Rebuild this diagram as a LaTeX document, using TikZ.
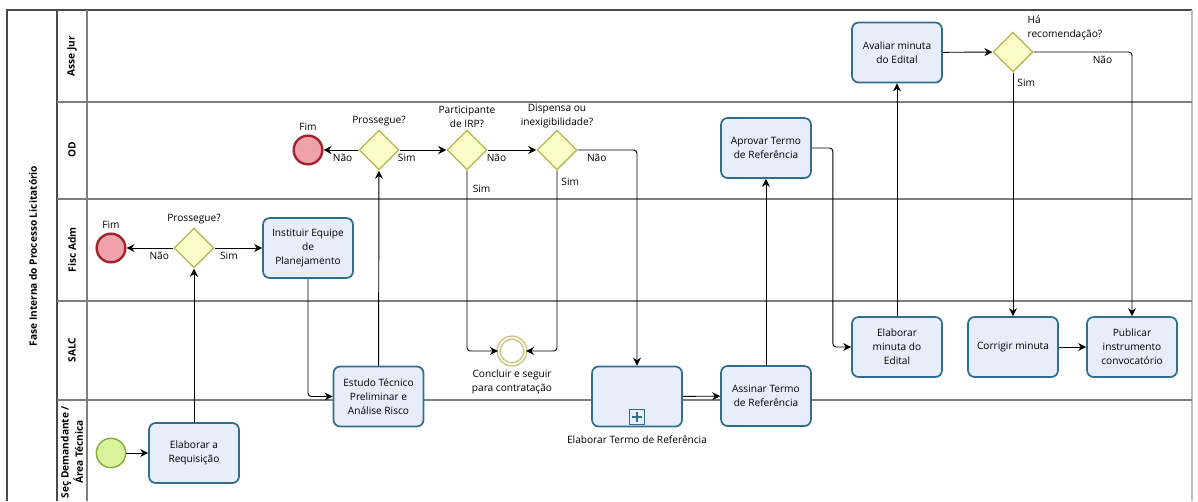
\documentclass[tikz,border=0pt]{standalone}
\usepackage{fontspec}
\setmainfont{Open Sans}
\usepackage{xcolor}
\usetikzlibrary{arrows.meta,positioning,shapes.geometric,calc}
\definecolor{taskbd}{HTML}{2F6F8C}
\definecolor{taskbg}{HTML}{E7EDFA}
\definecolor{gatebd}{HTML}{BDBA5C}
\definecolor{gatebg}{HTML}{FCFCC8}
\definecolor{endbd}{HTML}{A3222B}
\definecolor{endbg}{HTML}{EFA2A9}
\definecolor{startbd}{HTML}{86AE3E}
\definecolor{startbg}{HTML}{D9F39A}
\definecolor{midbd}{HTML}{C9C27C}
\definecolor{lanec}{HTML}{7E7E7E}
\definecolor{framec}{HTML}{4A4A4A}
\newcommand{\lblfont}{\fontsize{7.6}{10.6}\selectfont}
\tikzset{
  task/.style={rectangle, rounded corners=5pt, draw=taskbd, fill=taskbg, line width=1.3pt,
               minimum width=67.5pt, minimum height=45pt, align=center, inner sep=2pt, font=\lblfont},
  gate/.style={diamond, draw=gatebd, fill=gatebg, line width=1.1pt,
               minimum width=30pt, minimum height=30pt, inner sep=0pt},
  endev/.style={circle, draw=endbd, fill=endbg, line width=1.8pt, minimum size=21.5pt, inner sep=0pt},
  startev/.style={circle, draw=startbd, fill=startbg, line width=1.1pt, minimum size=22pt, inner sep=0pt},
  midev/.style={circle, draw=midbd, fill=white, line width=1.1pt, minimum size=20pt, inner sep=0pt,
                double=white, double distance=1.2pt},
  flow/.style={-{Stealth[length=6pt,width=6pt]}, line width=0.7pt, draw=black, rounded corners=2.5pt},
  lbl/.style={font=\lblfont, inner sep=1pt},
  lanelbl/.style={font=\lblfont\bfseries, rotate=90, align=center, inner sep=1pt},
  lane/.style={draw=lanec, line width=0.8pt},
}

\begin{document}
\begin{tikzpicture}[x=0.75pt, y=-0.75pt]
  \useasboundingbox (0,0) rectangle (1198,501);
  % pool and lanes
  \draw[framec, line width=0.8pt] (7,501) -- (7,10) -- (1192,10);
  \draw[lane, draw=lanec!50] (1192,10) -- (1192,501);
  \draw[framec, line width=0.8pt] (57,10) -- (57,501);
  \draw[lane] (87,10) -- (87,501);
  \foreach \ly in {102,199,301,400}
    \draw[lane] (57,\ly) -- (1192,\ly);
  \node[lanelbl] (pool) at (33,256) {Fase Interna do Processo Licitatório};
  \node[lanelbl] (ljur) at (72,56) {Asse Jur};
  \node[lanelbl] (lod) at (72,150) {OD};
  \node[lanelbl] (lfisc) at (72,250) {Fisc Adm};
  \node[lanelbl] (lsalc) at (72,350) {SALC};
  \node[lanelbl] (lsec) at (72,452) {Seç Demandante /\\ Área Técnica};

  % events, tasks and gateways
  \node[startev] (start) at (111,453) {};
  \node[task] (req) at (194,453) {Elaborar a\\ Requisição};
  \node[gate] (gw1) at (194,248) {};
  \node[endev] (fim1) at (111,248) {};
  \node[task] (inst) at (308,248) {Instituir Equipe\\ de\\ Planejamento};
  \node[task] (est) at (378.5,396.5) {Estudo Técnico\\ Preliminar e\\ Análise Risco};
  \node[gate] (gw2) at (379,150) {};
  \node[endev] (fim2) at (308,150) {};
  \node[gate] (gw3) at (467,150) {};
  \node[gate] (gw4) at (557,150) {};
  \node[midev] (concl) at (512,351) {};
  \node[task] (ter) at (637,396.5) {};
  \node[task] (ass) at (766,396) {Assinar Termo\\ de Referência};
  \node[task] (apr) at (766,148) {Aprovar Termo\\ de Referência};
  \node[task] (min) at (897,347) {Elaborar\\ minuta do\\ Edital};
  \node[task] (av) at (897,52.5) {Avaliar minuta\\ do Edital};
  \node[gate] (gw5) at (1013,52) {};
  \node[task] (cor) at (1013,347) {Corrigir minuta};
  \node[task] (pub) at (1132,347) {Publicar\\ instrumento\\ convocatório};

  % sub-process marker
  \node[draw=taskbd, fill=taskbg, line width=1pt, minimum size=11.5pt, inner sep=0pt,
        anchor=south] (plus) at ([yshift=1.5pt]ter.south) {};
  \fill[taskbd] ($(plus.center)+(-5,-1.3)$) rectangle ($(plus.center)+(5,1.3)$);
  \fill[taskbd] ($(plus.center)+(-1.3,-5)$) rectangle ($(plus.center)+(1.3,5)$);

  % labels
  \node[lbl, above=2pt of fim1] {Fim};
  \node[lbl, above=2pt of fim2] {Fim};
  \node[lbl, above=1pt of gw1] {Prossegue?};
  \node[lbl, above=1pt of gw2] {Prossegue?};
  \node[lbl, above=0pt of gw3, align=center] {Participante\\ de IRP?};
  \node[lbl, above=0pt of gw4, align=center] {Dispensa ou\\ inexigibilidade?};
  \node[lbl, anchor=north west, align=left] at (1026,14) {Há\\ recomendação?};
  \node[lbl, below=2pt of concl, align=center] {Concluir e seguir\\ para contratação};
  \node[lbl, below=5pt of ter] {Elaborar Termo de Referência};

  % sequence flows
  \draw[flow] (start) -- (req);
  \draw[flow] (req) -- (gw1);
  \draw[flow] (gw1) -- node[lbl, pos=0.3, below=2pt]{Não} (fim1);
  \draw[flow] (gw1) -- node[lbl, pos=0.3, below=2pt]{Sim} (inst);
  \draw[flow] (inst.south) |- (est.west);
  \draw[flow] (est) -- (gw2);
  \draw[flow] (gw2) -- node[lbl, pos=0.45, below=2pt]{Não} (fim2);
  \draw[flow] (gw2) -- node[lbl, pos=0.15, below=2pt]{Sim} (gw3);
  \draw[flow] (gw3) -- node[lbl, pos=0.18, below=2pt]{Não} (gw4);
  \draw[flow] (gw3.south) |- node[lbl, pos=0.05, right=3pt]{Sim} (concl.west);
  \draw[flow] (gw4.south) |- node[lbl, pos=0.03, right=2pt]{Sim} (concl.east);
  \draw[flow] (gw4.east) -| node[lbl, pos=0.16, below=2pt]{Não} (ter.north);
  \draw[flow] (ter) -- (ass);
  \draw[flow] (ass) -- (apr);
  \draw[flow] (apr.east) -- ++(21,0) |- (min.west);
  \draw[flow] (min) -- (av);
  \draw[flow] (av) -- (gw5);
  \draw[flow] (gw5.south) -- node[lbl, pos=0.04, right=2pt]{Sim} (cor.north);
  \draw[flow] (gw5.east) -| node[lbl, pos=0.35, below=2pt]{Não} (pub.north);
  \draw[flow] (cor) -- (pub);
\end{tikzpicture}
\end{document}
